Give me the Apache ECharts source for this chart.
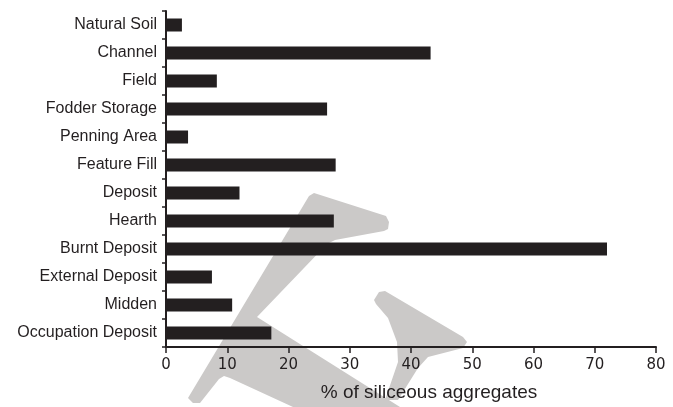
<!DOCTYPE html>
<html>
<head>
<meta charset="utf-8">
<script src="https://cdn.jsdelivr.net/npm/echarts@6/dist/echarts.min.js"></script>
<style>
  html, body { margin: 0; padding: 0; background: #ffffff; }
  #chart { width: 673px; height: 407px; }
</style>
</head>
<body>
<div id="chart"></div>
<script>
// Context types, listed top to bottom
var categories = [
  'Natural Soil', 'Channel', 'Field', 'Fodder Storage', 'Penning Area',
  'Feature Fill', 'Deposit', 'Hearth', 'Burnt Deposit', 'External Deposit',
  'Midden', 'Occupation Deposit'
];
// Percentage of siliceous aggregates per context type
var siliceousPct = [2.6, 43.2, 8.3, 26.3, 3.6, 27.7, 12.0, 27.4, 72.0, 7.5, 10.8, 17.2];
// Value axis ticks
var xTicks = [0, 10, 20, 30, 40, 50, 60, 70, 80];

var ink = '#231f20';
var shade = '#cbc9c8';
var fontFam = 'Liberation Sans, Arial, Helvetica, sans-serif';

// Pale logo shapes sitting behind the plot
var logoShapes = [
  {
    type: 'polygon', z: -10, silent: true,
    shape: { points: [
      [309, 196], [314, 193], [386, 216], [389, 222], [388, 229], [384, 231],
      [335, 240], [327, 244], [257, 317], [400, 407], [293, 407], [230, 378],
      [224, 376], [219, 379], [200, 403], [193, 403], [188, 398]
    ] },
    style: { fill: shade }
  },
  {
    type: 'polygon', z: -10, silent: true,
    shape: { points: [
      [374, 300], [379, 292], [385, 291], [463, 337], [467, 342], [463, 348],
      [428, 357], [418, 368], [398, 400], [385, 400], [398, 362], [397, 342],
      [388, 318], [376, 304]
    ] },
    style: { fill: shade }
  }
];

var chart = echarts.init(document.getElementById('chart'), null, { renderer: 'canvas' });

chart.setOption({
  backgroundColor: '#ffffff',
  animation: false,
  textStyle: { fontFamily: fontFam },
  graphic: { elements: logoShapes },
  grid: { left: 166, right: 17, top: 11, bottom: 60, containLabel: false },
  xAxis: {
    type: 'value',
    min: xTicks[0],
    max: xTicks[xTicks.length - 1],
    interval: xTicks[1] - xTicks[0],
    name: '% of siliceous aggregates',
    nameLocation: 'middle',
    nameGap: 36,
    nameTextStyle: { color: ink, fontSize: 19, fontFamily: fontFam, padding: [0, 0, 0, 36] },
    axisLine: { show: true, lineStyle: { color: ink, width: 2 } },
    axisTick: { show: true, length: 6, lineStyle: { color: ink, width: 1.5 } },
    axisLabel: { color: ink, fontSize: 15, margin: 11, fontFamily: 'DejaVu Sans, sans-serif' },
    splitLine: { show: false }
  },
  yAxis: {
    type: 'category',
    data: categories,
    inverse: true,
    axisLine: { show: true, lineStyle: { color: ink, width: 2 } },
    axisTick: { show: true, length: 4, alignWithLabel: false, lineStyle: { color: ink, width: 1.5 } },
    axisLabel: { color: ink, fontSize: 16, margin: 9, fontFamily: fontFam }
  },
  series: [{
    type: 'bar',
    data: siliceousPct,
    barWidth: 13,
    itemStyle: { color: ink },
    z: 2
  }]
});
</script>
</body>
</html>
